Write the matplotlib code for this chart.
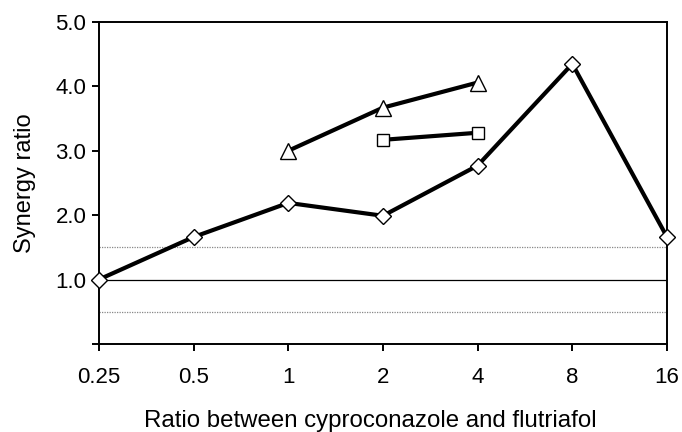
import matplotlib
matplotlib.use("Agg")
import matplotlib.pyplot as plt

plt.rcParams['font.family'] = ['Liberation Sans', 'DejaVu Sans']

ratios = ["0.25", "0.5", "1", "2", "4", "8", "16"]
diamond_vals = [1.0, 1.66, 2.19, 1.99, 2.77, 4.35, 1.66]
triangle_idx = [2, 3, 4]
triangle_vals = [3.0, 3.67, 4.06]
square_idx = [3, 4]
square_vals = [3.17, 3.28]
y_ticks = [0, 1, 2, 3, 4, 5]
y_labels = ["", "1.0", "2.0", "3.0", "4.0", "5.0"]

fig = plt.figure(figsize=(6.82, 4.32), dpi=100)
ax = fig.add_axes([0.145, 0.204, 0.833, 0.745])

x = list(range(len(ratios)))
ax.axhline(1.0, color='black', lw=0.9, zorder=1)
ax.axhline(1.5, color='#888888', lw=0.9, ls=(0, (1, 1)), zorder=1)
ax.axhline(0.5, color='#888888', lw=0.9, ls=(0, (1, 1)), zorder=1)

kw = dict(color='black', lw=3.0, mfc='white', mec='black', mew=1.0, clip_on=False, zorder=3)
ax.plot(x, diamond_vals, marker='D', ms=8.5, **kw)
ax.plot(triangle_idx, triangle_vals, marker='^', ms=11, **kw)
ax.plot(square_idx, square_vals, marker='s', ms=9, **kw)

ax.set_xlim(0, 6)
ax.set_ylim(0, 5)
ax.set_xticks(x)
ax.set_xticklabels(ratios)
ax.set_yticks(y_ticks)
ax.set_yticklabels(y_labels)
for s in ax.spines.values():
    s.set_linewidth(1.4)
ax.tick_params(direction='out', length=5, width=1.4, labelsize=16, pad=4)
ax.tick_params(axis='x', pad=12)
ax.set_xlabel("Ratio between cyproconazole and flutriafol", fontsize=17.3)
ax.xaxis.set_label_coords(0.477, -0.205)
ax.set_ylabel("Synergy ratio", fontsize=17, labelpad=14)

fig.savefig("out.png", dpi=100)
